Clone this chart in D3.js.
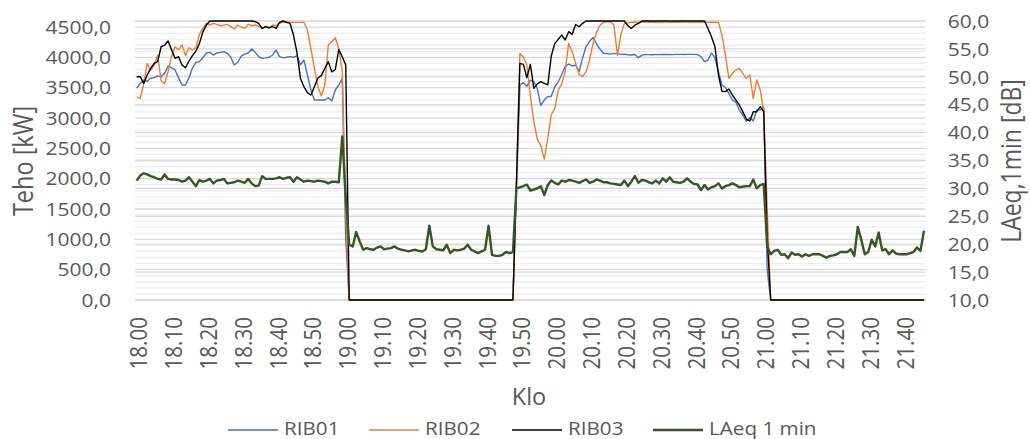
<!DOCTYPE html>
<html><head><meta charset="utf-8">
<script src="https://cdn.jsdelivr.net/npm/d3@7"></script>
<style>html,body{margin:0;padding:0;background:#fff;}svg{display:block;}</style>
</head><body>
<svg id="chart" width="1030" height="439"></svg>
<script>
// ---- data ----
const categories = d3.range(227).map(i => (18 + Math.floor(i / 60)) + "." + String(i % 60).padStart(2, "0"));
const xTickIndex = [0,10,20,30,40,50,60,70,80,90,100,110,120,130,140,150,160,170,180,190,200,210,220];
const xTickLabels = ["18.00","18.10","18.20","18.30","18.40","18.50","19.00","19.10","19.20","19.30","19.40","19.50","20.00","20.10","20.20","20.30","20.40","20.50","21.00","21.10","21.20","21.30","21.40"];
const leftTicks = [0,500,1000,1500,2000,2500,3000,3500,4000,4500];
const leftLabels = ["0,0","500,0","1000,0","1500,0","2000,0","2500,0","3000,0","3500,0","4000,0","4500,0"];
const rightTicks = [10,15,20,25,30,35,40,45,50,55,60];
const rightLabels = ["10,0","15,0","20,0","25,0","30,0","35,0","40,0","45,0","50,0","55,0","60,0"];
const seriesNames = ["RIB01","RIB02","RIB03","LAeq 1 min"];

const rib01 = [
3493,3574,3625,3605,3656,3666,3696,3681,3737,3859,
3829,3793,3666,3544,3544,3666,3829,3918,3931,3995,
4073,4083,4039,4073,4083,4094,4067,4002,3875,3920,
4022,4053,4073,4138,4083,4012,3985,3992,4002,4039,
4122,4012,3992,4002,4012,4002,4028,3875,3957,3710,
3462,3297,3297,3297,3297,3335,3281,3462,3545,3655,
1000,0,0,0,0,0,0,0,0,0,
0,0,0,0,0,0,0,0,0,0,
0,0,0,0,0,0,0,0,0,0,
0,0,0,0,0,0,0,0,0,0,
0,0,0,0,0,0,0,0,0,1830,
3544,3584,3523,3625,3600,3483,3208,3297,3352,3360,
3513,3595,3717,3849,3890,3859,3870,3768,3992,4175,
4267,4328,4226,4134,4068,4063,4053,4066,4058,4050,
4053,4043,4039,4048,3995,4032,4050,4045,4043,4050,
4046,4050,4048,4050,4046,4050,4050,4048,4050,4050,
4050,4046,4012,3931,3956,4073,3992,3765,3545,3503,
3407,3297,3259,3132,3050,2943,3004,2953,3132,3136,
3177,500,0,0,0,0,0,0,0,0,
0,0,0,0,0,0,0,0,0,0,
0,0,0,0,0,0,0,0,0,0,
0,0,0,0,0,0,0,0,0,0,
0,0,0,0,0,0,0];

const rib02 = [
3350,3325,3564,3900,3788,3870,4032,3615,3564,3768,
4012,4175,4124,4206,4032,4160,4122,4160,4379,4481,
4562,4534,4562,4545,4522,4531,4545,4506,4467,4534,
4501,4478,4545,4522,4534,4511,4478,4506,4478,4534,
4521,4562,4582,4588,4578,4578,4578,4578,4578,4451,
4150,3820,3517,3363,3545,4204,4259,4325,4150,3768,
1500,0,0,0,0,0,0,0,0,0,
0,0,0,0,0,0,0,0,0,0,
0,0,0,0,0,0,0,0,0,0,
0,0,0,0,0,0,0,0,0,0,
0,0,0,0,0,0,0,0,0,2000,
4063,4002,3875,3360,2943,2648,2546,2322,2665,3050,
3157,3462,3564,3768,4231,4094,3902,3720,3682,3765,
3956,4231,4409,4531,4577,4582,4588,4534,4032,4379,
4561,4570,4578,4582,4575,4580,4585,4578,4582,4575,
4580,4578,4585,4580,4582,4578,4580,4585,4582,4580,
4578,4582,4580,4585,4582,4580,4582,4577,4369,4039,
3655,3737,3792,3820,3737,3655,3710,3325,3627,3462,
3105,1500,0,0,0,0,0,0,0,0,
0,0,0,0,0,0,0,0,0,0,
0,0,0,0,0,0,0,0,0,0,
0,0,0,0,0,0,0,0,0,0,
0,0,0,0,0,0,0];

const rib03 = [
3682,3682,3572,3710,3820,3902,3930,4176,4204,4270,
4124,3985,4012,3875,3830,3940,4028,4105,4231,4424,
4533,4600,4600,4600,4600,4600,4600,4600,4600,4600,
4600,4600,4600,4600,4590,4562,4478,4506,4490,4506,
4478,4578,4600,4578,4562,4368,4080,3655,3517,3420,
3380,3517,3660,3700,3820,3930,3760,3800,4130,4010,
3875,0,0,0,0,0,0,0,0,0,
0,0,0,0,0,0,0,0,0,0,
0,0,0,0,0,0,0,0,0,0,
0,0,0,0,0,0,0,0,0,0,
0,0,0,0,0,0,0,0,0,1900,
3902,3885,3666,3885,3490,3564,3600,3572,3545,4022,
4226,4297,4369,4286,4424,4379,4542,4506,4561,4600,
4600,4600,4600,4600,4600,4600,4600,4600,4600,4600,
4600,4521,4478,4531,4561,4600,4600,4600,4600,4600,
4600,4600,4600,4600,4600,4600,4600,4600,4600,4600,
4600,4600,4600,4600,4478,4341,4175,3710,3442,3435,
3479,3380,3297,3215,3105,2984,2953,3105,3105,3187,
3105,1000,0,0,0,0,0,0,0,0,
0,0,0,0,0,0,0,0,0,0,
0,0,0,0,0,0,0,0,0,0,
0,0,0,0,0,0,0,0,0,0,
0,0,0,0,0,0,0];

const laeq = [
31.4,32.3,32.7,32.5,32.2,32.0,31.7,31.6,32.5,31.7,
31.6,31.6,31.5,31.2,31.4,32.0,31.2,30.4,31.5,31.2,
31.4,31.7,30.9,31.4,31.5,31.7,30.9,31.0,31.1,31.4,
31.2,31.0,31.7,30.9,30.4,30.5,32.2,31.7,31.7,31.7,
31.8,32.0,31.7,31.9,32.0,31.2,32.0,31.6,31.2,31.4,
31.3,31.2,31.4,31.3,31.2,30.9,31.2,31.2,31.1,39.3,
28.5,19.9,19.6,22.2,20.5,19.0,19.3,19.1,19.0,19.4,
19.6,19.1,19.2,19.3,19.6,19.2,19.0,18.9,18.7,18.9,
19.0,18.8,18.7,19.1,23.3,19.6,19.1,19.0,18.9,19.9,
18.4,19.0,18.9,19.0,19.2,19.9,19.0,18.7,18.4,18.7,
19.0,23.3,18.1,17.9,17.9,18.1,18.6,18.4,18.6,30.0,
30.2,30.4,30.7,29.6,29.8,30.0,30.4,28.8,30.6,31.4,
31.0,30.7,31.4,31.2,31.5,31.4,31.2,31.0,31.3,31.6,
31.0,31.2,31.6,31.4,31.1,31.1,30.9,30.8,30.7,30.6,
31.4,30.4,31.2,32.2,31.0,31.5,31.4,31.1,30.9,31.4,
30.9,31.8,31.2,32.0,31.2,31.1,31.0,31.2,31.8,31.2,
30.8,30.7,29.7,30.6,29.8,30.2,30.4,30.9,30.0,30.4,
30.6,30.9,30.6,30.2,30.3,30.4,30.4,31.6,30.0,30.6,
30.8,19.6,18.2,18.8,19.0,18.1,18.2,17.5,18.5,18.1,
18.2,17.8,18.2,17.9,18.2,18.2,18.2,17.9,17.6,17.9,
18.0,18.2,18.6,18.6,18.6,19.1,17.9,23.1,20.8,18.2,
18.6,20.8,19.6,22.1,18.9,19.1,18.2,18.9,18.3,18.2,
18.2,18.2,18.4,18.6,19.4,18.8,22.4];

// ---- layout ----
const L = 135, R = 925.7, T = 21, B = 300;
const SX = 1.18;
const FONT = "'Open Sans','Noto Sans',sans-serif";
const TXT = "#595959";
const colors = ["#4472C4", "#ED7D31", "#000000", "#375623"];

const svg = d3.select("#chart");
svg.append("rect").attr("width", 1030).attr("height", 439).attr("fill", "#fff");

const x = d3.scalePoint().domain(d3.range(categories.length)).range([L, R]).padding(0.5);
const yL = d3.scaleLinear().domain([0, 4600]).range([B, T]);
const yR = d3.scaleLinear().domain([10, 60]).range([B, T]);

// ---- gridlines ----
const grid = svg.append("g");
const minor = d3.range(0, 4601, 100).filter(v => v % 500 !== 0 || v > 4500);
grid.selectAll("line.mn").data(minor).join("line")
  .attr("x1", L).attr("x2", R).attr("y1", d => yL(d)).attr("y2", d => yL(d))
  .attr("stroke", "#ececec").attr("stroke-width", 1.3);
grid.selectAll("line.rm").data(rightTicks).join("line")
  .attr("x1", L).attr("x2", R).attr("y1", d => yR(d)).attr("y2", d => yR(d))
  .attr("stroke", "#d9d9d9").attr("stroke-width", 1.3);
grid.selectAll("line.lm").data(leftTicks).join("line")
  .attr("x1", L).attr("x2", R).attr("y1", d => yL(d)).attr("y2", d => yL(d))
  .attr("stroke", "#d9d9d9").attr("stroke-width", 1.3);

// ---- series ----
svg.append("clipPath").attr("id", "clip").append("rect")
  .attr("x", L).attr("y", T - 2).attr("width", R - L).attr("height", B - T + 4);
const plot = svg.append("g").attr("clip-path", "url(#clip)");
const lineL = d3.line().x((d, i) => x(i)).y(d => yL(d));
const lineR = d3.line().x((d, i) => x(i)).y(d => yR(d));
[rib01, rib02, rib03].forEach((s, k) => {
  plot.append("path").datum(s).attr("d", lineL).attr("fill", "none")
    .attr("stroke", colors[k]).attr("stroke-width", 1.4).attr("stroke-linejoin", "round");
});
plot.append("path").datum(laeq).attr("d", lineR).attr("fill", "none")
  .attr("stroke", colors[3]).attr("stroke-width", 2.4).attr("stroke-linejoin", "round");

// ---- axes ----
function styleText(sel, size) {
  sel.attr("font-family", FONT).attr("font-size", size).attr("fill", TXT);
}
const gL = svg.append("g").attr("transform", `translate(${L},0)`)
  .call(d3.axisLeft(yL).tickValues(leftTicks).tickFormat((d, i) => leftLabels[i]).tickSize(0));
gL.select(".domain").remove();
gL.selectAll("text").attr("x", 0).attr("dy", "0.35em")
  .attr("transform", `translate(-24,0) scale(${SX},1)`).call(styleText, 17.8);

const gR = svg.append("g").attr("transform", `translate(${R},0)`)
  .call(d3.axisRight(yR).tickValues(rightTicks).tickFormat((d, i) => rightLabels[i]).tickSize(0));
gR.select(".domain").remove();
gR.selectAll("text").attr("x", 0).attr("dy", "0.35em")
  .attr("transform", `translate(22,0) scale(${SX},1)`).call(styleText, 17.8);

const gX = svg.append("g").attr("transform", `translate(0,${B})`)
  .call(d3.axisBottom(x).tickValues(xTickIndex).tickFormat((d, i) => xTickLabels[i]).tickSize(0));
gX.select(".domain").remove();
gX.selectAll("text").attr("x", 0).attr("y", 0).attr("dy", "0.35em")
  .attr("text-anchor", "end")
  .attr("transform", `translate(1.5,17) scale(${SX},1) rotate(-90)`).call(styleText, 20.6);

// ---- titles ----
svg.append("text").attr("transform", `translate(23,161) scale(${SX},1) rotate(-90)`)
  .attr("text-anchor", "middle").attr("dy", "0.35em").text("Teho [kW]").call(styleText, 23.5);
svg.append("text").attr("transform", `translate(1011,161) scale(${SX},1) rotate(-90)`)
  .attr("text-anchor", "middle").attr("dy", "0.35em").text("LAeq,1min [dB]").call(styleText, 23);
svg.append("text").attr("transform", `translate(529,405)`)
  .attr("text-anchor", "middle").text("Klo").call(styleText, 23.5);

// ---- legend ----
const legendX = [228, 369, 512, 653];
const lg = svg.append("g");
seriesNames.forEach((n, k) => {
  lg.append("line").attr("x1", legendX[k]).attr("x2", legendX[k] + 50)
    .attr("y1", 430).attr("y2", 430).attr("stroke", colors[k]).attr("stroke-width", k === 3 ? 2.4 : 1.4);
  lg.append("text").attr("transform", `translate(${legendX[k] + 56},434.5) scale(${SX},1)`)
    .text(n).call(styleText, 17.5);
});
</script>
</body></html>
